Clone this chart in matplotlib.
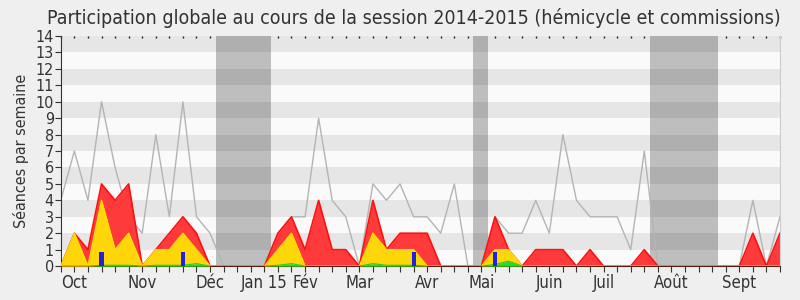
import numpy as np
import matplotlib
matplotlib.use("Agg")
import matplotlib.pyplot as plt

plt.rcParams["font.family"] = ["DejaVu Sans"]
plt.rcParams["font.stretch"] = "condensed"

# semaines de la session (index 0..53)
weeks = np.arange(54)

# total des seances par semaine (ligne grise)
total = [4, 7, 4, 10, 6, 3, 2, 8, 3, 10, 3, 2, 0, 0, 0, 0, 2, 3, 3, 9,
         4, 3, 0, 5, 4, 5, 3, 3, 2, 5, 0, 0, 3, 2, 2, 4, 2, 8, 4, 3,
         3, 3, 1, 7, 0, 0, 0, 0, 0, 0, 0, 4, 0, 3]
# haut de la zone rouge
red_top = [0, 2, 1, 5, 4, 5, 0, 1, 2, 3, 2, 0, 0, 0, 0, 0, 2, 3, 1, 4,
           1, 1, 0, 4, 1, 2, 2, 2, 0, 0, 0, 0, 3, 1, 0, 1, 1, 1, 0, 1,
           0, 0, 0, 1, 0, 0, 0, 0, 0, 0, 0, 2, 0, 2]
# haut de la zone jaune
yellow_top = [0, 2, 0, 4, 1, 2, 0, 1, 1, 2, 1, 0, 0, 0, 0, 0, 1, 2, 0, 0,
              0, 0, 0, 2, 1, 1, 1, 0, 0, 0, 0, 0, 1, 1, 0, 0, 0, 0, 0, 0,
              0, 0, 0, 0, 0, 0, 0, 0, 0, 0, 0, 0, 0, 0]
# zone verte
green = [0, 0, 0, 0.05, 0.05, 0.05, 0, 0.05, 0.05, 0.05, 0.15, 0, 0, 0, 0, 0, 0.05, 0.15, 0, 0,
         0, 0, 0, 0.15, 0.05, 0.05, 0.05, 0, 0, 0, 0, 0, 0.1, 0.3, 0, 0, 0, 0, 0, 0,
         0, 0, 0, 0, 0, 0, 0, 0, 0, 0, 0, 0, 0, 0]
# barres bleues
blue_weeks = [3, 9, 26, 32]
blue_vals = [0.87, 0.87, 0.87, 0.87]

# vacances parlementaires
vacances = [(11.45, 15.5), (30.4, 31.5), (43.45, 48.45)]

month_pos = [1, 6, 11, 15, 18, 22, 27, 31, 36, 40, 45, 50]
month_labels = ["Oct", "Nov", "Déc", "Jan 15", "Fév", "Mar", "Avr", "Mai",
                "Juin", "Juil", "Août", "Sept"]

fig = plt.figure(figsize=(8, 3), dpi=100, facecolor="#efefef")
ax = fig.add_axes([0.076, 0.113, 0.899, 0.767])
ax.set_facecolor("#fafafa")

for a, b in vacances:
    ax.axvspan(a, b, color="#bebebe", lw=0, zorder=0.5)
for k in range(1, 14, 2):
    ax.axhspan(k, k + 1, color="black", alpha=0.08, lw=0, zorder=0.6)

ax.plot(weeks, total, color="#b4b4b4", lw=1, zorder=1)
ax.fill_between(weeks, yellow_top, red_top, color="#ff3a3a", lw=0, zorder=2)
ax.plot(weeks, red_top, color="#ff1010", lw=1.2, zorder=2.1)
ax.fill_between(weeks, green, yellow_top, color="#ffd60a", lw=0, zorder=3)
ax.plot(weeks, yellow_top, color="#ffe000", lw=1, zorder=3.1)
ax.fill_between(weeks, 0, green, color="#22dd22", lw=0, zorder=4)
ax.plot(weeks, green, color="#22cc22", lw=0.8, zorder=4.1)
ax.bar(blue_weeks, blue_vals, width=0.3, color="#2222dd", lw=0, zorder=5)

ax.set_xlim(0, 53)
ax.set_ylim(0, 14)
ax.set_yticks(range(15))
ax.set_xticks(weeks)
labels = [""] * len(weeks)
for p, l in zip(month_pos, month_labels):
    labels[p] = l
ax.set_xticklabels(labels, fontsize=12, color="#333333")
ax.tick_params(axis="x", length=4, width=0.8, color="#333333", pad=2)
ax.tick_params(axis="y", labelsize=11.5, length=4, color="#333333",
               labelcolor="#333333", pad=1)
ax.set_ylabel("Séances par semaine", fontsize=11.5, color="#333333", labelpad=5)

# petits reperes en haut
top = ax.secondary_xaxis("top")
top.set_xticks(weeks)
top.set_xticklabels([])
top.tick_params(length=1.5, width=1, color="#222222", direction="in")
top.spines["top"].set_visible(False)

ax.spines["top"].set_visible(False)
ax.spines["right"].set_color("#cccccc")
ax.spines["left"].set_color("#333333")
ax.spines["bottom"].set_color("#5a2010")

fig.suptitle("Participation globale au cours de la session 2014-2015 (hémicycle et commissions)",
             fontsize=14, color="#333333", x=0.517, y=0.972)

fig.savefig("out.png", dpi=100, facecolor=fig.get_facecolor())
